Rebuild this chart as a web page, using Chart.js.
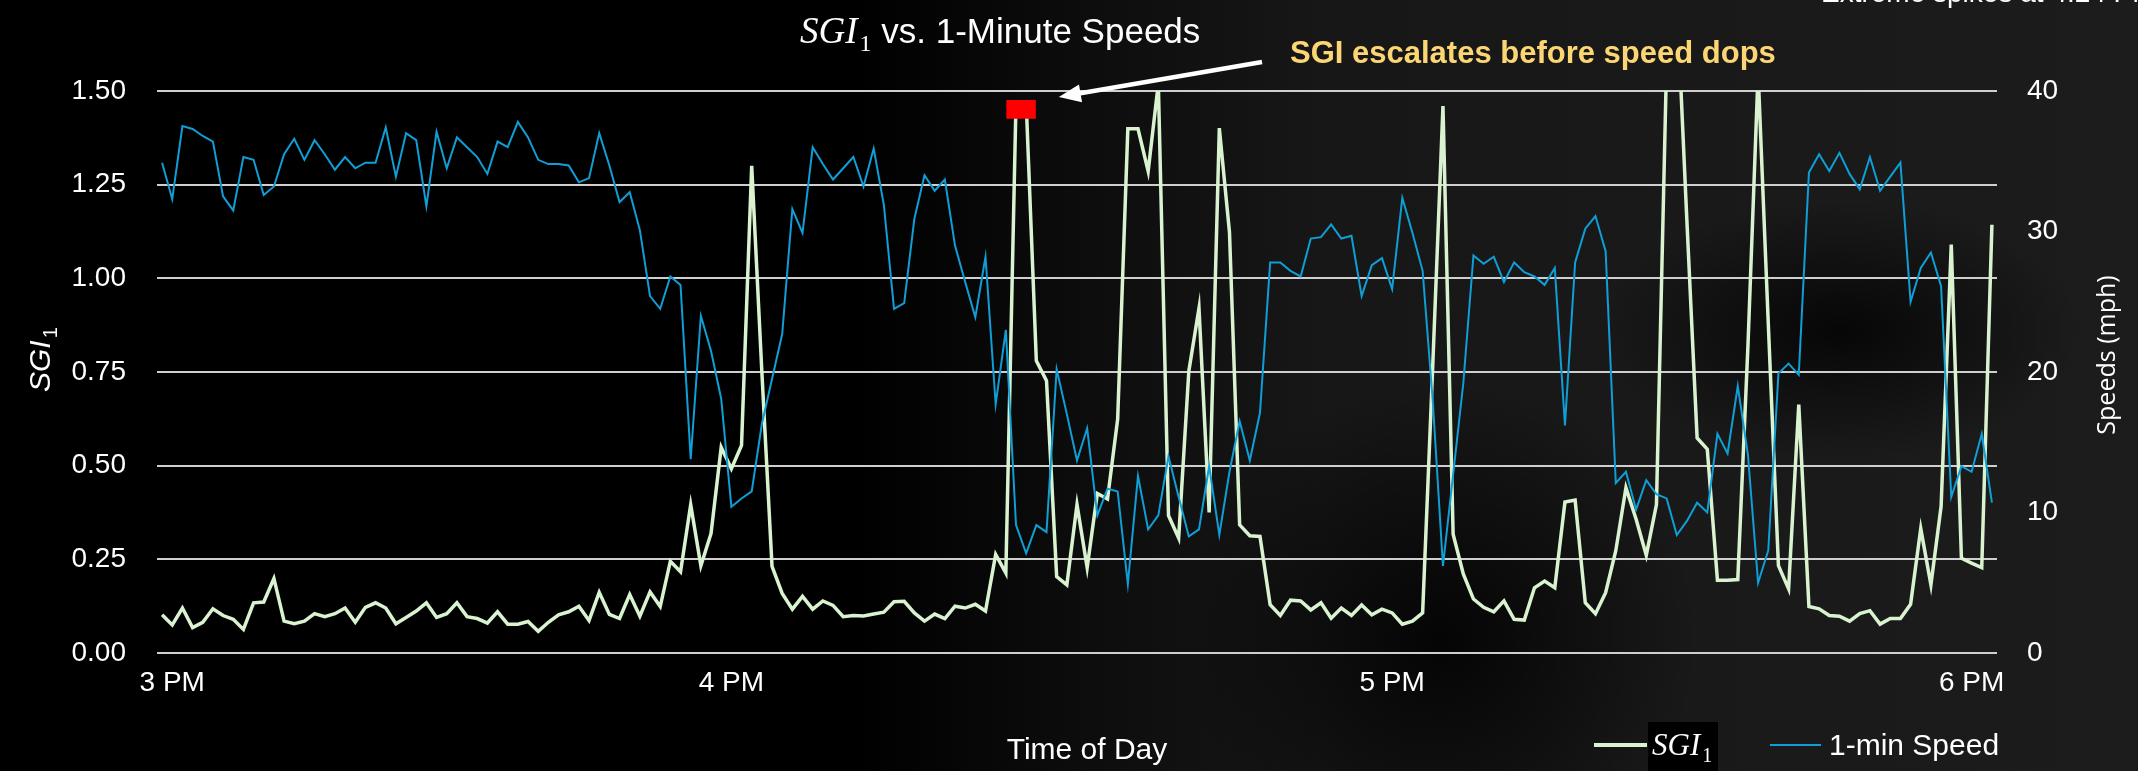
<!DOCTYPE html>
<html>
<head>
<meta charset="utf-8">
<script src="https://cdn.jsdelivr.net/npm/chart.js@4.4.1/dist/chart.umd.min.js"></script>
<style>
html, body { margin: 0; padding: 0; }
body {
    width: 2138px; height: 771px; overflow: hidden;
    background:
        radial-gradient(ellipse 240px 130px at 1840px 330px, rgba(0,0,0,0.75), rgba(0,0,0,0) 100%),
        radial-gradient(ellipse 260px 260px at 1440px 640px, rgba(0,0,0,0.8), rgba(0,0,0,0) 100%),
        linear-gradient(90deg, #000 0%, #000 40%, #0c0c0c 50%, #171717 62%, #1c1c1c 100%);
}
canvas { display: block; }
</style>
</head>
<body>
<canvas id="sgiChart" width="2138" height="771"></canvas>
<script>
// one reading per minute, 3 PM .. 6 PM
const sgiValues = [
    0.102, 0.075, 0.120, 0.068, 0.082, 0.118, 0.100, 0.090, 0.063, 0.134,
    0.136, 0.199, 0.085, 0.078, 0.085, 0.105, 0.097, 0.105, 0.120, 0.082,
    0.122, 0.134, 0.120, 0.078, 0.095, 0.112, 0.134, 0.095, 0.105, 0.134,
    0.097, 0.092, 0.080, 0.110, 0.077, 0.077, 0.084, 0.058, 0.082, 0.102,
    0.110, 0.125, 0.087, 0.162, 0.103, 0.092, 0.156, 0.098, 0.163, 0.124,
    0.245, 0.217, 0.396, 0.233, 0.319, 0.549, 0.492, 0.554, 1.300, 0.750,
    0.231, 0.159, 0.117, 0.151, 0.117, 0.139, 0.127, 0.097, 0.100, 0.099,
    0.104, 0.109, 0.137, 0.138, 0.107, 0.085, 0.104, 0.092, 0.125, 0.120,
    0.130, 0.112, 0.263, 0.213, 1.470, 1.470, 0.780, 0.727, 0.204, 0.182,
    0.396, 0.228, 0.426, 0.411, 0.624, 1.399, 1.399, 1.286, 1.520, 0.367,
    0.307, 0.752, 0.920, 0.375, 1.401, 1.123, 0.342, 0.313, 0.311, 0.129,
    0.100, 0.141, 0.139, 0.115, 0.134, 0.093, 0.120, 0.100, 0.128, 0.102,
    0.117, 0.107, 0.077, 0.085, 0.107, 0.770, 1.460, 0.317, 0.211, 0.144,
    0.122, 0.110, 0.139, 0.090, 0.088, 0.174, 0.192, 0.174, 0.403, 0.408,
    0.134, 0.105, 0.161, 0.273, 0.441, 0.357, 0.261, 0.396, 1.580, 1.750,
    1.150, 0.574, 0.544, 0.194, 0.194, 0.196, 0.820, 1.550, 0.880, 0.233,
    0.171, 0.663, 0.124, 0.118, 0.100, 0.098, 0.085, 0.105, 0.113, 0.077,
    0.092, 0.092, 0.130, 0.332, 0.182, 0.391, 1.090, 0.253, 0.240, 0.228,
    1.143
];
const speedValues = [
    34.9, 32.3, 37.5, 37.3, 36.8, 36.4, 32.5, 31.5, 35.3, 35.1,
    32.6, 33.2, 35.5, 36.6, 35.1, 36.5, 35.5, 34.4, 35.3, 34.5,
    34.9, 34.9, 37.4, 33.9, 37.0, 36.5, 31.8, 37.1, 34.5, 36.7,
    36.0, 35.3, 34.1, 36.4, 36.0, 37.8, 36.7, 35.1, 34.8, 34.8,
    34.7, 33.5, 33.8, 37.0, 34.7, 32.1, 32.8, 30.1, 25.4, 24.5,
    26.8, 26.2, 13.8, 24.0, 21.5, 18.1, 10.4, 11.0, 11.5, 16.3,
    19.5, 22.7, 31.6, 29.9, 36.0, 34.8, 33.7, 34.5, 35.3, 33.2,
    35.9, 31.9, 24.5, 24.9, 30.9, 34.0, 32.9, 33.7, 29.0, 26.4,
    23.9, 28.2, 17.7, 23.0, 9.1, 7.1, 9.1, 8.6, 20.2, 17.0,
    13.7, 16.0, 9.8, 11.7, 11.5, 4.9, 12.6, 8.8, 9.8, 14.0,
    11.1, 8.3, 8.8, 13.3, 8.4, 12.9, 16.5, 13.7, 17.1, 27.8,
    27.8, 27.2, 26.8, 29.5, 29.6, 30.5, 29.5, 29.7, 25.4, 27.6,
    28.1, 25.9, 32.4, 29.9, 27.2, 17.9, 6.2, 12.7, 19.2, 28.3,
    27.7, 28.2, 26.4, 27.8, 27.1, 26.8, 26.2, 27.4, 16.2, 27.8,
    30.2, 31.1, 28.6, 12.1, 12.9, 10.2, 12.3, 11.3, 11.0, 8.4,
    9.4, 10.7, 10.0, 15.6, 14.2, 19.0, 14.1, 5.0, 7.3, 19.9,
    20.6, 19.8, 34.2, 35.5, 34.3, 35.6, 34.1, 33.0, 35.3, 32.9,
    33.9, 34.9, 25.0, 27.4, 28.5, 26.1, 11.1, 13.3, 12.9, 15.6,
    10.7
];
const tickText = ['3 PM', '4 PM', '5 PM', '6 PM'];
const tickAt = [1, 56, 121, 178];
const markedSpike = [84, 85];   // red box over the 4:24 spike

const timeLabels = sgiValues.map((v, i) => {
    const k = tickAt.indexOf(i);
    return k >= 0 ? tickText[k] : '';
});

const SANS = '"Liberation Sans", Arial, sans-serif';
const SERIF = '"Liberation Serif", "DejaVu Serif", serif';
const GREEN = '#d9f2d0';
const BLUE = '#0f9ed5';
const GRID = '#cfcfcf';

// "SGI" with subscript 1, returns end x
function drawSGI(ctx, x, y, size, family, italic) {
    ctx.font = (italic ? 'italic ' : '') + size + 'px ' + family;
    ctx.fillText('SGI', x, y);
    const w = ctx.measureText('SGI').width;
    ctx.font = Math.round(size * 0.66) + 'px ' + family;
    ctx.fillText('1', x + w + 2, y + size * 0.22);
    return x + w + 2 + ctx.measureText('1').width;
}

const decorations = {
    id: 'decorations',
    afterDraw(chart) {
        const ctx = chart.ctx;
        const xs = chart.scales.x, ys = chart.scales.y;
        ctx.save();
        ctx.textBaseline = 'alphabetic';
        ctx.fillStyle = '#fff';

        // title
        ctx.textAlign = 'left';
        const tEnd = drawSGI(ctx, 800, 43, 37, SERIF, true);
        ctx.font = '35px ' + SANS;
        ctx.fillText(' vs. 1-Minute Speeds', tEnd, 43);

        // cut-off note at the very top
        ctx.font = '28px ' + SANS;
        ctx.fillText('Extreme spikes at 4:24 PM', 1821, 2);

        // axis titles
        ctx.save();
        ctx.translate(50, 392);
        ctx.rotate(-Math.PI / 2);
        drawSGI(ctx, 0, 0, 30, SANS, true);
        ctx.restore();

        ctx.save();
        ctx.translate(2115, 355);
        ctx.rotate(-Math.PI / 2);
        ctx.textAlign = 'center';
        ctx.font = '25px "Open Sans", ' + SANS;
        ctx.fillText('Speeds (mph)', 0, 0);
        ctx.restore();

        ctx.textAlign = 'center';
        ctx.font = '30px ' + SANS;
        ctx.fillText('Time of Day', 1087, 759);

        // legend
        ctx.lineCap = 'butt';
        ctx.strokeStyle = GREEN;
        ctx.lineWidth = 4;
        ctx.beginPath(); ctx.moveTo(1594, 745); ctx.lineTo(1647, 745); ctx.stroke();
        ctx.fillStyle = '#000';
        ctx.fillRect(1648, 722, 70, 49);
        ctx.fillStyle = '#fff';
        ctx.textAlign = 'left';
        drawSGI(ctx, 1652, 755, 31, SERIF, true);
        ctx.strokeStyle = BLUE;
        ctx.lineWidth = 2;
        ctx.beginPath(); ctx.moveTo(1770, 745); ctx.lineTo(1821, 745); ctx.stroke();
        ctx.font = '30px ' + SANS;
        ctx.fillText('1-min Speed', 1829, 755);

        // red box over the spike
        const x0 = xs.getPixelForValue(markedSpike[0]);
        const x1 = xs.getPixelForValue(markedSpike[1]);
        const cx = (x0 + x1) / 2, half = (x1 - x0) * 1.45;
        const top = ys.getPixelForValue(1.476), bot = ys.getPixelForValue(1.426);
        ctx.fillStyle = '#ff0000';
        ctx.fillRect(cx - half, top, half * 2, bot - top);

        // callout text + arrow
        ctx.fillStyle = '#fbd672';
        ctx.font = 'bold 31px ' + SANS;
        ctx.fillText('SGI escalates before speed dops', 1290, 63);

        const tipX = cx + half + 23, tipY = top - 3;
        const tailX = 1262, tailY = 62;
        const ang = Math.atan2(tipY - tailY, tipX - tailX);
        ctx.strokeStyle = '#fff';
        ctx.fillStyle = '#fff';
        ctx.lineWidth = 4.5;
        ctx.beginPath();
        ctx.moveTo(tailX, tailY);
        ctx.lineTo(tipX - 16 * Math.cos(ang), tipY - 16 * Math.sin(ang));
        ctx.stroke();
        ctx.beginPath();
        ctx.moveTo(tipX, tipY);
        ctx.lineTo(tipX - 22 * Math.cos(ang) + 9 * Math.sin(ang), tipY - 22 * Math.sin(ang) - 9 * Math.cos(ang));
        ctx.lineTo(tipX - 22 * Math.cos(ang) - 9 * Math.sin(ang), tipY - 22 * Math.sin(ang) + 9 * Math.cos(ang));
        ctx.closePath();
        ctx.fill();
        ctx.restore();
    }
};

const ctx = document.getElementById('sgiChart').getContext('2d');
new Chart(ctx, {
    type: 'line',
    data: {
        labels: timeLabels,
        datasets: [
            {
                label: 'SGI1',
                data: sgiValues,
                yAxisID: 'y',
                borderColor: GREEN,
                borderWidth: 3.5,
                pointRadius: 0,
                tension: 0,
                order: 1
            },
            {
                label: '1-min Speed',
                data: speedValues,
                yAxisID: 'y1',
                borderColor: BLUE,
                borderWidth: 2,
                pointRadius: 0,
                tension: 0,
                order: 0
            }
        ]
    },
    options: {
        responsive: false,
        animation: false,
        layout: { padding: { top: 91, left: 0, right: 0, bottom: 0 } },
        plugins: { legend: { display: false }, tooltip: { enabled: false } },
        scales: {
            x: {
                offset: true,
                grid: { display: false },
                border: { display: false },
                ticks: {
                    autoSkip: false,
                    maxRotation: 0,
                    color: '#fff',
                    padding: 5,
                    font: { family: SANS, size: 28 },
                    callback: (v, i) => timeLabels[i]
                },
                afterFit: s => { s.height = 118; }
            },
            y: {
                position: 'left',
                min: 0,
                max: 1.5,
                grid: { color: GRID, lineWidth: 2, drawTicks: false },
                border: { display: false },
                ticks: {
                    stepSize: 0.25,
                    color: '#fff',
                    padding: 31,
                    font: { family: SANS, size: 28 },
                    callback: v => v.toFixed(2)
                },
                afterFit: s => { s.width = 157; }
            },
            y1: {
                position: 'right',
                min: 0,
                max: 40,
                grid: { display: false, drawTicks: false },
                border: { display: false },
                ticks: {
                    stepSize: 10,
                    color: '#fff',
                    padding: 30,
                    font: { family: SANS, size: 28 }
                },
                afterFit: s => { s.width = 141; }
            }
        }
    },
    plugins: [decorations]
});
</script>
</body>
</html>
